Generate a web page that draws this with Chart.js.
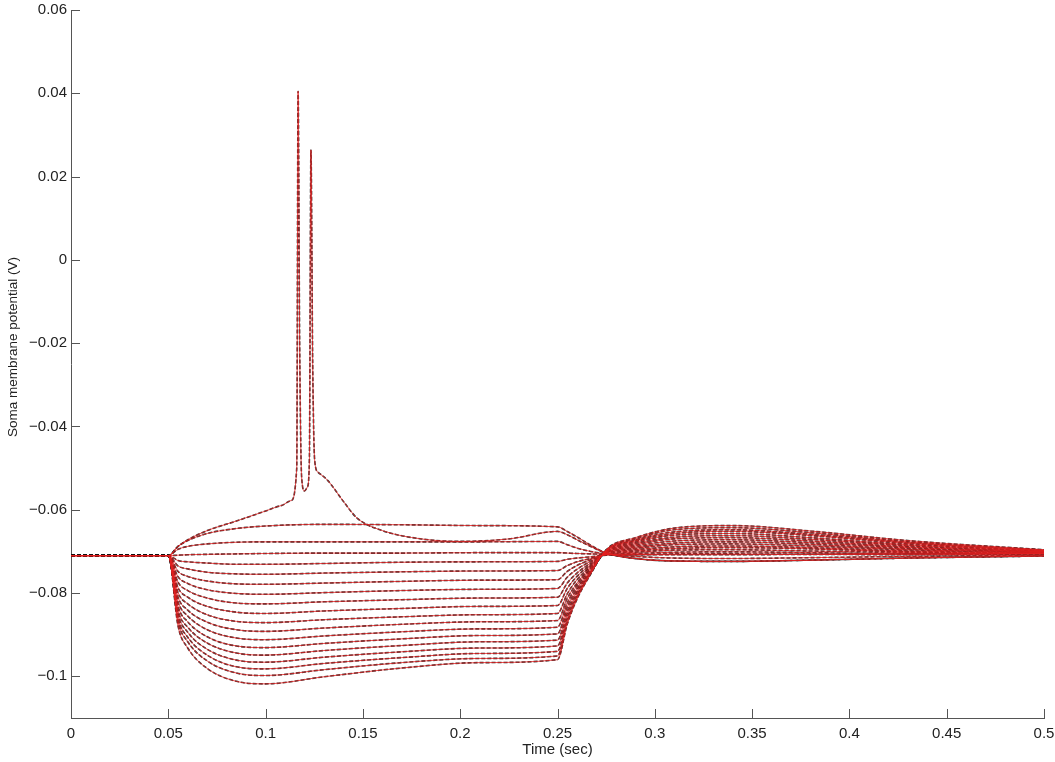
<!DOCTYPE html>
<html>
<head>
<meta charset="utf-8">
<script src="https://cdn.jsdelivr.net/npm/chart.js@4.4.1/dist/chart.umd.min.js"></script>
<style>
html, body { margin: 0; padding: 0; background: #fff; }
</style>
</head>
<body>
<canvas id="traceChart" width="1055" height="762"></canvas>
<script>
// sample times (sec) shared by the sub-threshold traces
var T = [0, 0.05, 0.055, 0.06, 0.07, 0.085, 0.1, 0.13, 0.17, 0.21, 0.25,
         0.255, 0.26, 0.267, 0.275, 0.29, 0.31, 0.34, 0.38, 0.43, 0.5];

// membrane potential (V) of each current step, read at the times above
var vZero = [-0.0710, -0.0710, -0.0709, -0.0708, -0.0707, -0.0706, -0.0705, -0.0704, -0.0704, -0.0703, -0.0703, -0.0704, -0.0705, -0.0706, -0.0707, -0.0708, -0.0708, -0.0708, -0.0707, -0.0706, -0.0705];
var vDep1 = [-0.0710, -0.0710, -0.0695, -0.0688, -0.0682, -0.0678, -0.0677, -0.0677, -0.0677, -0.0677, -0.0676, -0.0684, -0.0692, -0.0700, -0.0706, -0.0712, -0.0716, -0.0717, -0.0715, -0.0712, -0.0709];
var vDep2 = [-0.0710, -0.0710, -0.0688, -0.0674, -0.0657, -0.0645, -0.0639, -0.0635, -0.0636, -0.0638, -0.0641, -0.0652, -0.0665, -0.0685, -0.0704, -0.0717, -0.0723, -0.0724, -0.0721, -0.0716, -0.0711];
var vHyp01 = [-0.0710, -0.0710, -0.0722, -0.0725, -0.0728, -0.0731, -0.0731, -0.0729, -0.0726, -0.0725, -0.0724, -0.0719, -0.0716, -0.0713, -0.0709, -0.0708, -0.0706, -0.0706, -0.0707, -0.0708, -0.0706];
var vHyp02 = [-0.0710, -0.0710, -0.0735, -0.0742, -0.0750, -0.0754, -0.0755, -0.0752, -0.0749, -0.0747, -0.0746, -0.0734, -0.0725, -0.0717, -0.0708, -0.0705, -0.0702, -0.0701, -0.0703, -0.0706, -0.0706];
var vHyp03 = [-0.0710, -0.0710, -0.0748, -0.0760, -0.0771, -0.0778, -0.0779, -0.0776, -0.0772, -0.0769, -0.0768, -0.0748, -0.0734, -0.0720, -0.0707, -0.0702, -0.0697, -0.0696, -0.0699, -0.0703, -0.0705];
var vHyp04 = [-0.0710, -0.0710, -0.0761, -0.0777, -0.0792, -0.0801, -0.0803, -0.0799, -0.0794, -0.0791, -0.0789, -0.0762, -0.0743, -0.0724, -0.0706, -0.0699, -0.0693, -0.0691, -0.0694, -0.0701, -0.0704];
var vHyp05 = [-0.0710, -0.0710, -0.0774, -0.0794, -0.0812, -0.0824, -0.0826, -0.0821, -0.0816, -0.0812, -0.0810, -0.0776, -0.0752, -0.0728, -0.0705, -0.0696, -0.0689, -0.0687, -0.0691, -0.0699, -0.0704];
var vHyp06 = [-0.0710, -0.0710, -0.0787, -0.0810, -0.0832, -0.0846, -0.0849, -0.0843, -0.0837, -0.0832, -0.0830, -0.0789, -0.0760, -0.0732, -0.0704, -0.0693, -0.0684, -0.0682, -0.0687, -0.0696, -0.0703];
var vHyp07 = [-0.0710, -0.0710, -0.0799, -0.0826, -0.0852, -0.0868, -0.0871, -0.0864, -0.0857, -0.0852, -0.0849, -0.0802, -0.0768, -0.0735, -0.0703, -0.0690, -0.0680, -0.0677, -0.0683, -0.0694, -0.0702];
var vHyp08 = [-0.0710, -0.0710, -0.0810, -0.0841, -0.0870, -0.0888, -0.0892, -0.0884, -0.0875, -0.0869, -0.0866, -0.0813, -0.0776, -0.0738, -0.0702, -0.0687, -0.0675, -0.0672, -0.0679, -0.0691, -0.0701];
var vHyp09 = [-0.0710, -0.0710, -0.0821, -0.0855, -0.0888, -0.0908, -0.0912, -0.0903, -0.0893, -0.0886, -0.0882, -0.0824, -0.0782, -0.0741, -0.0701, -0.0684, -0.0670, -0.0667, -0.0675, -0.0689, -0.0701];
var vHyp10 = [-0.0710, -0.0710, -0.0832, -0.0869, -0.0905, -0.0927, -0.0931, -0.0921, -0.0910, -0.0902, -0.0898, -0.0834, -0.0789, -0.0744, -0.0700, -0.0681, -0.0666, -0.0662, -0.0671, -0.0686, -0.0700];
var vHyp11 = [-0.0710, -0.0710, -0.0842, -0.0882, -0.0920, -0.0944, -0.0949, -0.0938, -0.0926, -0.0917, -0.0913, -0.0844, -0.0795, -0.0747, -0.0699, -0.0678, -0.0661, -0.0657, -0.0667, -0.0684, -0.0699];
var vHyp12 = [-0.0710, -0.0710, -0.0851, -0.0894, -0.0935, -0.0961, -0.0966, -0.0954, -0.0941, -0.0932, -0.0927, -0.0853, -0.0801, -0.0749, -0.0698, -0.0675, -0.0657, -0.0652, -0.0662, -0.0681, -0.0698];
var vHyp13 = [-0.0710, -0.0710, -0.0860, -0.0906, -0.0949, -0.0977, -0.0982, -0.0969, -0.0955, -0.0945, -0.0940, -0.0862, -0.0807, -0.0751, -0.0698, -0.0673, -0.0653, -0.0648, -0.0659, -0.0679, -0.0698];
var vHyp14 = [-0.0710, -0.0710, -0.0868, -0.0917, -0.0963, -0.0992, -0.0998, -0.0984, -0.0967, -0.0957, -0.0951, -0.0869, -0.0811, -0.0753, -0.0697, -0.0670, -0.0648, -0.0643, -0.0655, -0.0677, -0.0697];
var vHyp15 = [-0.0710, -0.0710, -0.0879, -0.0932, -0.0981, -0.1012, -0.1018, -0.1001, -0.0980, -0.0967, -0.0960, -0.0875, -0.0815, -0.0755, -0.0696, -0.0667, -0.0644, -0.0638, -0.0651, -0.0674, -0.0696];

// the spiking trace has its own, denser time samples
var tSpike = [0, 0.05, 0.055, 0.06, 0.07, 0.085, 0.1, 0.108, 0.113, 0.116,
              0.1167, 0.1175, 0.1185, 0.12, 0.1215, 0.1225, 0.1233, 0.1242, 0.1252, 0.127,
              0.132, 0.14, 0.147, 0.16, 0.18, 0.2, 0.225, 0.25, 0.255, 0.26,
              0.267, 0.275, 0.29, 0.31, 0.34, 0.38, 0.43, 0.5];
var vSpike = [-0.0710, -0.0710, -0.0688, -0.0672, -0.0650, -0.0627, -0.0603, -0.0590, -0.0578, -0.0500,
              0.0405, -0.0200, -0.0520, -0.0555, -0.0545, -0.0480, 0.0264, -0.0250, -0.0480, -0.0510,
              -0.0530, -0.0580, -0.0620, -0.0650, -0.0670, -0.0676, -0.0670, -0.0652, -0.0660, -0.0672,
              -0.0688, -0.0704, -0.0717, -0.0723, -0.0724, -0.0721, -0.0716, -0.0711];

var X_TICKS = [0, 0.05, 0.1, 0.15, 0.2, 0.25, 0.3, 0.35, 0.4, 0.45, 0.5];
var X_LABELS = ['0', '0.05', '0.1', '0.15', '0.2', '0.25', '0.3', '0.35', '0.4', '0.45', '0.5'];
var Y_TICKS = [-0.1, -0.08, -0.06, -0.04, -0.02, 0, 0.02, 0.04, 0.06];
var Y_LABELS = ['\u22120.1', '\u22120.08', '\u22120.06', '\u22120.04', '\u22120.02', '0', '0.02', '0.04', '0.06'];
var Y_TITLE = 'Soma membrane potential (V)';

var stepTraces = [vZero, vDep1, vDep2, vHyp01, vHyp02, vHyp03, vHyp04, vHyp05, vHyp06, vHyp07,
                  vHyp08, vHyp09, vHyp10, vHyp11, vHyp12, vHyp13, vHyp14, vHyp15];

function toPoints(times, values) {
    return values.map(function (v, i) { return {x: times[i], y: v}; });
}

var allTraces = stepTraces.map(function (v) { return toPoints(T, v); });
allTraces.push(toPoints(tSpike, vSpike));

var FONT = 'Liberation Sans, Arial, Helvetica, sans-serif';

// model (red, thin) first so it is painted on top of the wider dashed recordings
var datasets = [];
allTraces.forEach(function (pts) {
    datasets.push({
        data: pts,
        borderColor: 'rgb(226, 32, 32)',
        borderWidth: 0.8,
        pointRadius: 0,
        cubicInterpolationMode: 'monotone'
    });
});
allTraces.forEach(function (pts) {
    datasets.push({
        data: pts,
        borderColor: 'rgba(20, 16, 16, 0.85)',
        borderWidth: 1.6,
        borderDash: [4, 2],
        pointRadius: 0,
        cubicInterpolationMode: 'monotone'
    });
});

// matlab style tick marks pointing into the plot, plus the y label
var axisExtras = {
    id: 'axisExtras',
    afterDraw: function (chart) {
        var ctx = chart.ctx, a = chart.chartArea;
        var x = chart.scales.x, y = chart.scales.y;
        ctx.save();
        ctx.strokeStyle = '#555';
        ctx.lineWidth = 1;
        ctx.beginPath();
        X_TICKS.forEach(function (v) {
            var px = Math.round(x.getPixelForValue(v)) + 0.5;
            ctx.moveTo(px, a.bottom);
            ctx.lineTo(px, a.bottom - 9);
        });
        Y_TICKS.forEach(function (v) {
            var py = Math.round(y.getPixelForValue(v)) + 0.5;
            ctx.moveTo(a.left, py);
            ctx.lineTo(a.left + 9, py);
        });
        ctx.stroke();

        ctx.translate(13, 347);
        ctx.rotate(-Math.PI / 2);
        ctx.fillStyle = '#222';
        ctx.font = '13.5px ' + FONT;
        ctx.textAlign = 'center';
        ctx.textBaseline = 'middle';
        ctx.fillText(Y_TITLE, 0, 0);
        ctx.restore();
    }
};

var ctx = document.getElementById('traceChart').getContext('2d');
var myChart = new Chart(ctx, {
    type: 'line',
    data: { datasets: datasets },
    options: {
        responsive: false,
        animation: false,
        layout: { padding: { top: 10, right: 11, left: 0, bottom: 0 } },
        plugins: {
            legend: { display: false },
            tooltip: { enabled: false }
        },
        scales: {
            x: {
                type: 'linear',
                min: 0,
                max: 0.5,
                afterBuildTicks: function (s) { s.ticks = X_TICKS.map(function (v) { return {value: v}; }); },
                afterFit: function (s) { s.height = 44; s.paddingLeft = 0; s.paddingRight = 0; },
                ticks: {
                    autoSkip: false,
                    maxRotation: 0,
                    padding: 7,
                    color: '#222',
                    font: { family: FONT, size: 15 },
                    callback: function (v, i) { return X_LABELS[i]; }
                },
                grid: { display: false, drawTicks: false },
                border: { display: true, color: '#555', width: 1 },
                title: {
                    display: true,
                    text: 'Time (sec)',
                    color: '#222',
                    font: { family: FONT, size: 15 },
                    padding: { top: 0, bottom: 3 }
                }
            },
            y: {
                min: -0.11,
                max: 0.06,
                afterBuildTicks: function (s) { s.ticks = Y_TICKS.map(function (v) { return {value: v}; }); },
                afterFit: function (s) { s.width = 71; s.paddingTop = 0; s.paddingBottom = 0; },
                ticks: {
                    autoSkip: false,
                    padding: 4,
                    color: '#222',
                    font: { family: FONT, size: 15 },
                    callback: function (v, i) { return Y_LABELS[i]; }
                },
                grid: { display: false, drawTicks: false },
                border: { display: true, color: '#555', width: 1 }
            }
        }
    },
    plugins: [axisExtras]
});
</script>
</body>
</html>
